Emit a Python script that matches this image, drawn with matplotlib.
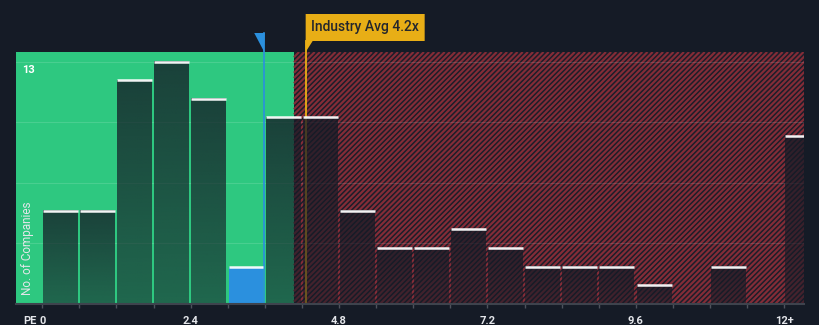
import numpy as np
import matplotlib
matplotlib.use("Agg")
import matplotlib.pyplot as plt
from matplotlib.patches import Rectangle, Polygon
from matplotlib.lines import Line2D
from matplotlib.collections import LineCollection
import matplotlib.transforms as mtransforms

# PE histogram, bins of 0.6 starting at 0; last bin is "12+"
bin_starts = [0.0, 0.6, 1.2, 1.8, 2.4, 3.0, 3.6, 4.2, 4.8, 5.4, 6.0,
              6.6, 7.2, 7.8, 8.4, 9.0, 9.6, 10.2, 10.8, 11.4, 12.0]
counts = [5, 5, 12, 13, 11, 2, 10, 10, 5, 3, 3,
          4, 3, 2, 2, 2, 1, 0, 2, 0, 9]
tick_labels = ["0", "2.4", "4.8", "7.2", "9.6", "12+"]
tick_values = [0.0, 2.4, 4.8, 7.2, 9.6, 12.0]

company_pe = 3.59
industry_avg = 4.26
fair_limit = 4.07
y_top_label = 13

bg = "#151b26"
green = "#2ec880"
red = "#842c37"
blue = "#2b90de"
gold = "#e8ae16"

plt.rcParams["font.family"] = ["Roboto", "DejaVu Sans"]

fig = plt.figure(figsize=(8.2, 3.25), dpi=100, facecolor=bg)
W, H = 820, 325
ax_l, ax_r, ax_b, ax_t = 16, 804, 304, 52
ax = fig.add_axes([ax_l / W, (H - ax_b) / H, (ax_r - ax_l) / W,
                   (ax_b - ax_t) / H])
ax.set_facecolor(bg)

xmin, xmax = -0.425, 12.32
ymax = 13.51
sx = (ax_r - ax_l) / (xmax - xmin)   # pixels per PE unit
sy = (ax_b - ax_t) / ymax            # pixels per company

# green "good value" zone
ax.add_patch(Rectangle((xmin, 0), fair_limit - xmin, ymax, facecolor=green,
                       lw=0, zorder=0))

# red zone with 45 degree stripes (clipped by hand at the zone's left edge)
ax.add_patch(Rectangle((fair_limit, 0), xmax - fair_limit, ymax,
                       facecolor="#1b1e2a", lw=0, zorder=0))
period = 5.2
h_px = ax_b - ax_t
zone_w = (xmax - fair_limit) * sx
segs = []
for off in np.arange(-h_px, zone_w + period, period):
    x0 = fair_limit + off / sx
    x1 = x0 + h_px / sx
    y0 = 0.0
    if x0 < fair_limit:
        y0 = (fair_limit - x0) * sx / sy
        x0 = fair_limit
    segs.append([(x0, y0), (x1, ymax)])
ax.add_collection(LineCollection(segs, colors=red, linewidths=1.55,
                                 zorder=0.5))

# faint gridlines at quarters of the top value
for k in range(1, 5):
    ax.axhline(y_top_label * k / 4, color="white", alpha=0.13, lw=0.8,
               zorder=1)

# marker lines sit behind the bars
fy = mtransforms.blended_transform_factory(ax.transData, fig.transFigure)
ax.add_line(Line2D([industry_avg, industry_avg],
                   [(H - ax_b) / H, (H - 41) / H], color=gold, lw=1.3,
                   transform=fy, clip_on=False, zorder=2))
ax.add_line(Line2D([company_pe, company_pe],
                   [(H - ax_b) / H, (H - 33) / H], color=blue, lw=1.2,
                   transform=fy, clip_on=False, zorder=2))

# bars: dark translucent gradient, blue for the company's own bin
width = 0.565
grad = np.zeros((64, 1, 4))
grad[..., :3] = matplotlib.colors.to_rgb(bg)
grad[:, 0, 3] = np.linspace(0.78, 0.56, 64)
for x0, c in zip(bin_starts, counts):
    if c == 0:
        continue
    left = x0 + 0.012
    if abs(x0 - 3.0) < 1e-6:
        ax.add_patch(Rectangle((left, 0), width, c, facecolor=blue, lw=0,
                               zorder=3))
    else:
        ax.imshow(grad, extent=[left, left + width, 0, c], aspect="auto",
                  interpolation="bilinear", zorder=3)
    ax.plot([left, left + width], [c, c], color="white", lw=1.8,
            solid_capstyle="butt", alpha=0.95, zorder=4)

ax.set_xlim(xmin, xmax)
ax.set_ylim(0, ymax)

# axes styling
for s in ["top", "right", "left"]:
    ax.spines[s].set_visible(False)
ax.spines["bottom"].set_color("#3e434d")
ax.spines["bottom"].set_linewidth(1.5)
ax.spines["bottom"].set_zorder(5)
ax.set_yticks([])
ax.set_xticks([round(0.6 * i, 1) for i in range(21)])
ax.set_xticklabels([])
ax.tick_params(axis="x", colors="#4d525c", length=3, width=1)

base_y = (H - 323.8) / H
for v, lab in zip(tick_values, tick_labels):
    ax.text(v, base_y, lab, transform=fy, color="#e4e6ea", fontsize=8,
            fontweight="bold", ha="center", va="baseline")
fig.text(30 / W, base_y, "PE", color="#e4e6ea", fontsize=8,
         fontweight="bold", ha="center", va="baseline")

ax.text(-0.32, 12.55, str(y_top_label), color="white", fontsize=8,
        fontweight="bold", ha="left", va="center", zorder=6)
ax.text(-0.24, 0.48, "No. of Companies", color="#e4e6ea", fontsize=8.5,
        rotation=90, ha="center", va="bottom", zorder=6)

# company marker flag
px = 1 / sx
ax.add_patch(Polygon([(company_pe - 10 * px, (H - 33) / H),
                      (company_pe + 0.6 * px, (H - 33) / H),
                      (company_pe, (H - 52) / H)], closed=True,
                     facecolor=blue, lw=0, transform=fy, clip_on=False,
                     zorder=6))

# industry average label box
bw = 119 * px
ax.add_patch(Polygon([(industry_avg, (H - 14) / H),
                      (industry_avg + bw, (H - 14) / H),
                      (industry_avg + bw, (H - 41) / H),
                      (industry_avg + 7 * px, (H - 41) / H),
                      (industry_avg, (H - 52) / H)], closed=True,
                     facecolor=gold, lw=0, transform=fy, clip_on=False,
                     zorder=6))
ax.text(industry_avg + bw / 2, (H - 27.5) / H, "Industry Avg 4.2x",
        transform=fy, color="#23262d", fontsize=10, fontweight="medium",
        ha="center", va="center", zorder=7)

fig.savefig("out.png", dpi=100, facecolor=bg)
